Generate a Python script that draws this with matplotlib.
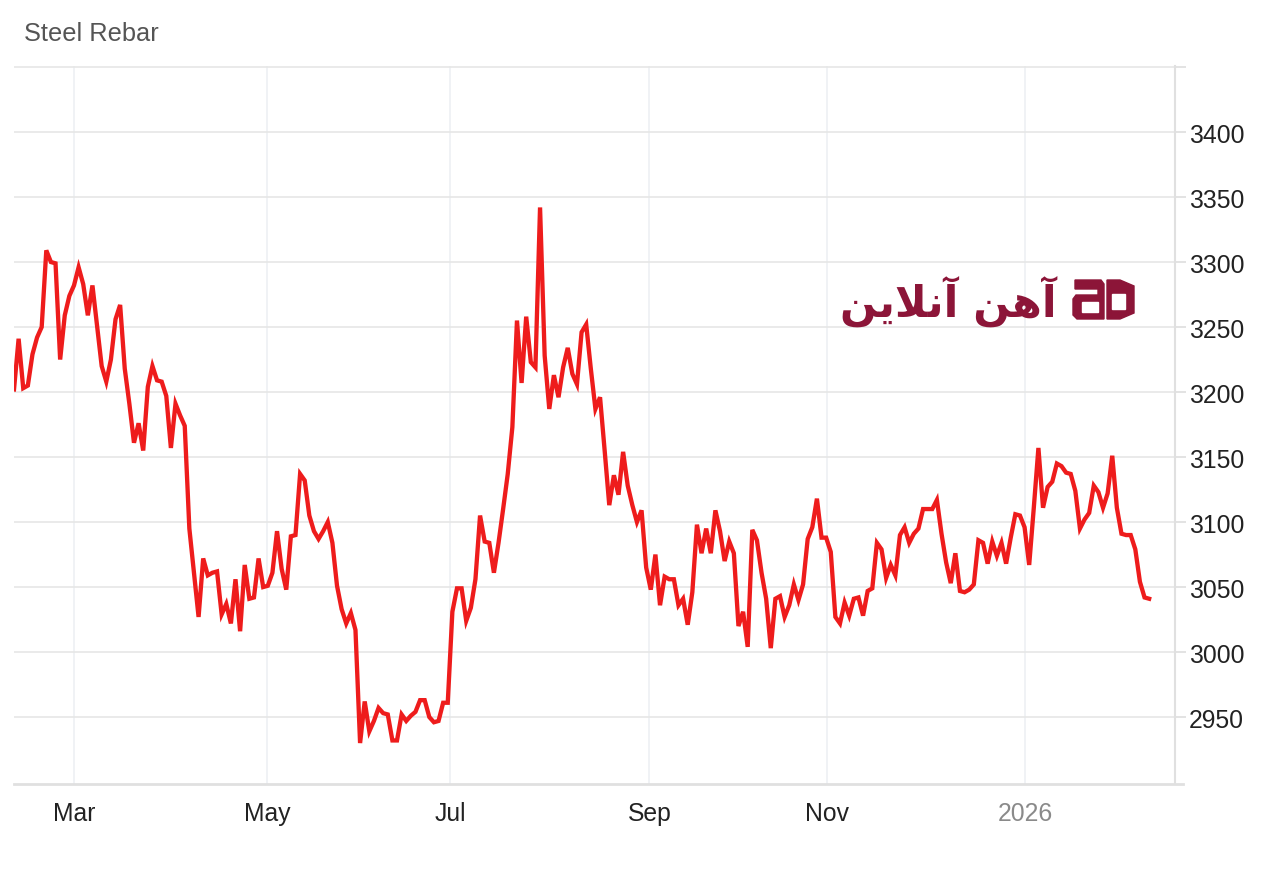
import matplotlib
matplotlib.use('Agg')
import matplotlib.pyplot as plt
from matplotlib.patches import Polygon, Rectangle

plt.rcParams['font.family'] = ['Liberation Sans', 'DejaVu Sans']

# daily rebar price, one value per trading day (Feb 2025 -> Feb 2026)
prices = [3202, 3241, 3203, 3205, 3229, 3242, 3250, 3309, 3300, 3299,
          3225, 3259, 3274, 3282, 3296, 3283, 3259, 3282, 3251, 3220,
          3208, 3225, 3256, 3267, 3218, 3191, 3161, 3176, 3155, 3204,
          3220, 3209, 3208, 3197, 3157, 3191, 3182, 3174, 3095, 3061,
          3027, 3072, 3059, 3061, 3062, 3029, 3037, 3022, 3056, 3016,
          3067, 3041, 3042, 3072, 3050, 3051, 3061, 3093, 3064, 3048,
          3089, 3090, 3137,
          3132, 3105, 3093, 3087, 3093, 3100, 3084, 3051, 3033, 3022,
          3030, 3017, 2930, 2962, 2939, 2947, 2957, 2953, 2952, 2932,
          2932, 2952, 2947, 2951, 2954, 2963, 2963, 2950, 2946, 2947,
          2961, 2961, 3031, 3049, 3049, 3024, 3034, 3056, 3105, 3085,
          3084, 3061, 3084, 3110, 3137,
          3173, 3255, 3207, 3258, 3223, 3219, 3342, 3228, 3187, 3213,
          3196, 3219, 3234, 3214, 3206, 3246, 3252, 3218, 3187, 3196,
          3155, 3113, 3136, 3121, 3154, 3128, 3113, 3100, 3109, 3065,
          3048, 3075, 3036, 3058, 3056, 3056, 3036,
          3041, 3021, 3046, 3098, 3076, 3095, 3076, 3109, 3093, 3070,
          3085, 3076, 3020, 3031, 3004, 3094, 3086, 3061, 3041, 3003,
          3041, 3043, 3027, 3036, 3052, 3040, 3052, 3087, 3096, 3118,
          3088, 3088, 3077, 3027, 3022, 3038, 3028, 3041, 3042,
          3028, 3047, 3049, 3084, 3079, 3057, 3067, 3059, 3090, 3096,
          3084, 3091, 3095, 3110, 3110, 3110, 3117, 3091, 3069, 3053,
          3076, 3047, 3046, 3048, 3052, 3086, 3084, 3068, 3085, 3074,
          3084, 3068, 3088, 3106, 3105, 3096, 3067, 3111, 3157, 3111,
          3127, 3131, 3145, 3143, 3138, 3137, 3124, 3095, 3102, 3107,
          3128, 3123, 3111, 3122, 3151, 3111, 3091, 3090, 3090, 3079,
          3054, 3042, 3041]
days = list(range(len(prices)))

# month starts on the trading-day axis
month_pos = [13.0, 54.8, 94.5, 137.7, 176.1, 219.1]
month_labels = ['Mar', 'May', 'Jul', 'Sep', 'Nov', '2026']
y_ticks = [2950, 3000, 3050, 3100, 3150, 3200, 3250, 3300, 3350, 3400, 3450]

fig = plt.figure(figsize=(12.8, 8.87), dpi=100)
ax = fig.add_axes([14/1280, 1-785/887, (1175-14)/1280, (785-67)/887])

ax.plot(days, prices, color='#ee1c1c', lw=3.1, solid_joinstyle='miter', zorder=3)

ax.set_xlim(0, 251.6)
ax.set_ylim(2898.5, 3450.8)

ax.yaxis.tick_right()
ax.set_yticks(y_ticks)
ax.set_yticklabels([str(v) if v < 3450 else '' for v in y_ticks]) # top line has no label
ax.tick_params(axis='y', length=8, width=1.3, color='#e0e0e0', pad=2,
               labelsize=17.8, labelcolor='#222222')
ax.set_xticks(month_pos)
ax.set_xticklabels(month_labels)
ax.tick_params(axis='x', length=0, pad=12, labelsize=17.8, labelcolor='#222222')
ax.get_xticklabels()[-1].set_color('#8a8a8a')

ax.grid(axis='y', color='#e6e6e6', lw=1.2)
ax.grid(axis='x', color='#eef0f4', lw=1.2)
ax.set_axisbelow(True)

for s in ['left', 'top']:
    ax.spines[s].set_visible(False)
ax.spines['right'].set_color('#e0e0e0')
ax.spines['right'].set_linewidth(1.5)
ax.spines['bottom'].set_color('#e0e0e0')
ax.spines['bottom'].set_linewidth(2)
ax.spines['bottom'].set_bounds(0, 253.3)

fig.text(24/1280, 1-34/887, 'Steel Rebar', ha='left', va='center',
         fontsize=18.3, color='#555555')

# watermark logo, drawn on an overlay in pixel coords
ov = fig.add_axes([0, 0, 1, 1], zorder=5)
ov.set_xlim(0, 1280)
ov.set_ylim(887, 0)
ov.axis('off')
maroon = '#8c1538'
# persian name in presentation forms, visual order
logo_txt = '\ufee6\ufbfe\ufefc\ufee7\ufe81 \ufee6\ufeeb\ufe81'
ov.text(948, 302, logo_txt, ha='center', va='center', fontsize=31,
        fontweight='bold', color=maroon, family=['DejaVu Sans'])
ov.add_patch(Polygon([(1075, 281), (1101, 281), (1104, 285), (1104, 320),
                      (1077, 320), (1073, 316), (1073, 300), (1076, 296),
                      (1098, 296), (1098, 290), (1075, 290)], color=maroon))
ov.add_patch(Rectangle((1082, 303), 16, 10, color='white'))
ov.add_patch(Polygon([(1107, 281), (1120, 281), (1134, 287), (1134, 314),
                      (1120, 320), (1107, 320)], color=maroon))
ov.add_patch(Rectangle((1112, 295), 13, 15, color='white'))

fig.savefig('out.png', dpi=100, facecolor='white')
